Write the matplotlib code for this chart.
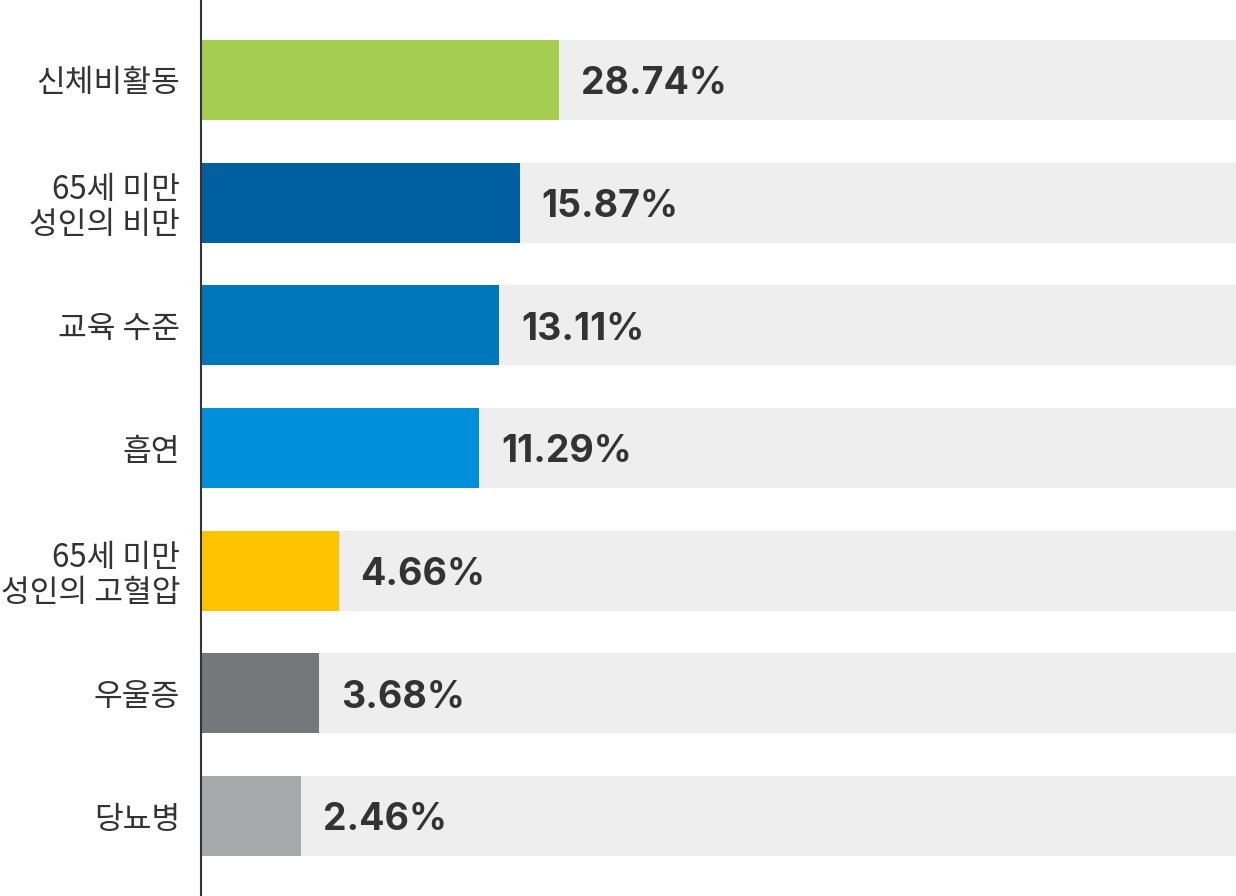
import matplotlib
matplotlib.use("Agg")
import matplotlib.pyplot as plt

plt.rcParams['font.family'] = ['Noto Sans CJK KR', 'DejaVu Sans']

categories = ['신체비활동', '65세 미만\n성인의 비만', '교육 수준', '흡연',
              '65세 미만\n성인의 고혈압', '우울증', '당뇨병']
values = [28.74, 15.87, 13.11, 11.29, 4.66, 3.68, 2.46]
# bar lengths as drawn in the picture (share of the grey track, %)
bar_lengths = [34.6, 30.8, 28.8, 26.9, 13.3, 11.4, 9.7]
colors = ['#a5cd50', '#005f9e', '#0077bb', '#0090d9', '#ffc400', '#75787b', '#a7a8aa']

fig = plt.figure(figsize=(12.36, 8.96), dpi=100)
ax = fig.add_axes([201 / 1236, 0, 1 - 201 / 1236, 1])

y = range(len(categories))
ax.barh(y, [100] * len(categories), height=0.652, color='#eeeeee', zorder=1)
ax.barh(y, bar_lengths, height=0.652, color=colors, zorder=2)

for i, (v, l) in enumerate(zip(values, bar_lengths)):
    ax.text(l + 2.1, i + 0.035, f'{v:.2f}%', va='center', ha='left',
            fontsize=27, fontweight='bold', color='#333333', zorder=3,
            family=['Inter', 'DejaVu Sans'])

ax.set_xlim(0, 100)
ax.set_ylim(len(categories) - 1 + 0.652, -0.652)
ax.set_yticks(list(y))
ax.set_yticklabels(categories, fontsize=22.5, color='#333333', linespacing=1.1)
ax.tick_params(axis='y', length=0, pad=15)
ax.set_xticks([])
for s in ['top', 'right', 'bottom']:
    ax.spines[s].set_visible(False)
ax.spines['left'].set_color('#333333')
ax.spines['left'].set_linewidth(1.5)
ax.spines['left'].set_zorder(5)

fig.savefig('out.png', dpi=100)
